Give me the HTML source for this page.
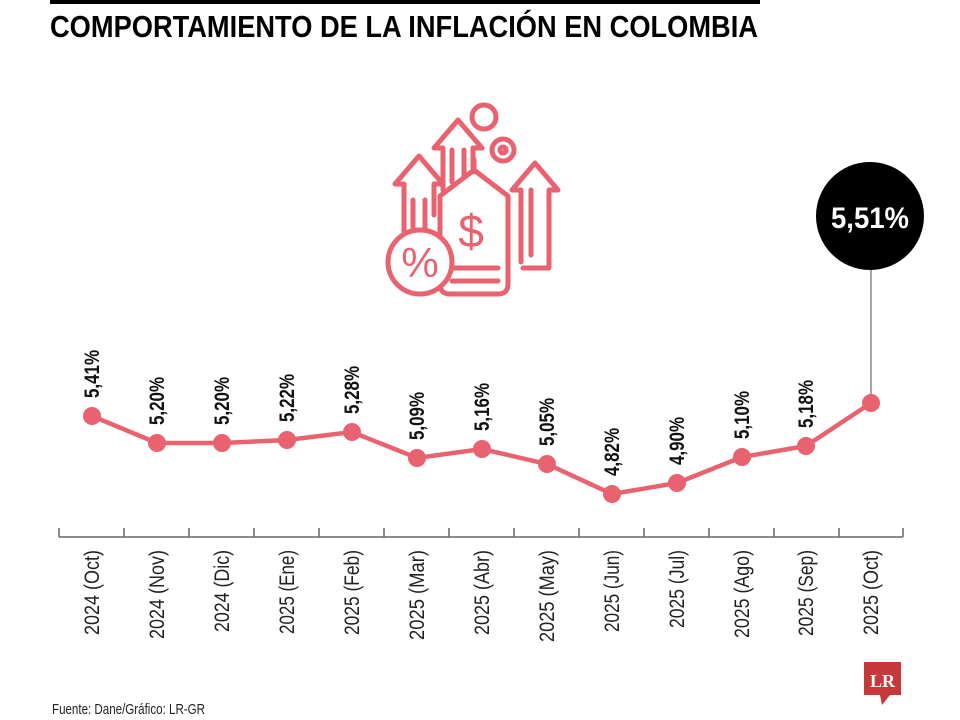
<!DOCTYPE html>
<html><head><meta charset="utf-8"><style>body{margin:0;background:#fff}svg{display:block}</style></head>
<body>
<svg width="960" height="720" viewBox="0 0 960 720" xmlns="http://www.w3.org/2000/svg" font-family="Liberation Sans Narrow, Liberation Sans, sans-serif">
<rect x="50" y="0" width="710" height="4" fill="#000"/>
<text x="50" y="37" font-size="31" font-weight="bold" textLength="708" lengthAdjust="spacingAndGlyphs">COMPORTAMIENTO DE LA INFLACIÓN EN COLOMBIA</text>
<g fill="none" stroke="#e9626f" stroke-width="5" stroke-linecap="round" stroke-linejoin="round">
<path d="M404 232 V184 h-9 l24 -28 l24 28 h-9 V215"/>
<path d="M413 200 V235 M425 200 V232"/>
<path d="M443 190 V148 h-9 l24 -28 l24 28 h-9 V170"/>
<path d="M452 150 V182 M464 150 V175"/>
<path d="M521 262 V190 h-9 l23 -27 l23 27 h-9 V268 h-26"/>
<path d="M531 190 V255"/>
<circle cx="484" cy="117" r="12"/>
<circle cx="503" cy="150" r="11"/>
<circle cx="503" cy="150" r="3"/>
<path d="M474 170 L440 196 V284 q0 10 10 10 h48 q10 0 10 -10 V196 Z" fill="#fff"/>
<path d="M474 160 V172"/>
<path d="M452 268 h46 M452 281 h46"/>
<circle cx="420" cy="262" r="32" fill="#fff"/>
</g>
<text x="471" y="247" font-size="46" fill="#e9626f" text-anchor="middle" font-family="Liberation Sans, sans-serif">$</text>
<text x="420" y="277" font-size="42" fill="#e9626f" text-anchor="middle" font-family="Liberation Sans, sans-serif">%</text>
<line x1="871" y1="216" x2="871" y2="403" stroke="#777" stroke-width="1.3"/>
<circle cx="870" cy="216" r="54" fill="#000"/>
<text x="870" y="228" font-size="30" font-weight="bold" fill="#fff" text-anchor="middle" textLength="78" lengthAdjust="spacingAndGlyphs">5,51%</text>
<g stroke="#666" stroke-width="1.5">
<line x1="59" y1="537" x2="903" y2="537"/>
<path d="M59 528V537M124 528V537M189 528V537M254 528V537M319 528V537M384 528V537M449 528V537M514 528V537M579 528V537M644 528V537M709 528V537M774 528V537M839 528V537M903 528V537"/>
</g>
<polyline fill="none" stroke="#e9626f" stroke-width="4.5" points="92,416 157,443 222,443 287,440 352,432 417,458 482,449 547,464 612,494 677,483 742,457 806,446 871,403"/>
<g fill="#e9626f">
<circle cx="92" cy="416" r="9"/><circle cx="157" cy="443" r="9"/><circle cx="222" cy="443" r="9"/><circle cx="287" cy="440" r="9"/><circle cx="352" cy="432" r="9"/><circle cx="417" cy="458" r="9"/><circle cx="482" cy="449" r="9"/><circle cx="547" cy="464" r="9"/><circle cx="612" cy="494" r="9"/><circle cx="677" cy="483" r="9"/><circle cx="742" cy="457" r="9"/><circle cx="806" cy="446" r="9"/><circle cx="871" cy="403" r="9"/>
</g>
<g font-size="21" font-weight="bold" fill="#111">
<text transform="translate(99,398) rotate(-90)" textLength="48" lengthAdjust="spacingAndGlyphs">5,41%</text>
<text transform="translate(164,425) rotate(-90)" textLength="48" lengthAdjust="spacingAndGlyphs">5,20%</text>
<text transform="translate(229,425) rotate(-90)" textLength="48" lengthAdjust="spacingAndGlyphs">5,20%</text>
<text transform="translate(294,422) rotate(-90)" textLength="48" lengthAdjust="spacingAndGlyphs">5,22%</text>
<text transform="translate(359,414) rotate(-90)" textLength="48" lengthAdjust="spacingAndGlyphs">5,28%</text>
<text transform="translate(424,440) rotate(-90)" textLength="48" lengthAdjust="spacingAndGlyphs">5,09%</text>
<text transform="translate(489,431) rotate(-90)" textLength="48" lengthAdjust="spacingAndGlyphs">5,16%</text>
<text transform="translate(554,446) rotate(-90)" textLength="48" lengthAdjust="spacingAndGlyphs">5,05%</text>
<text transform="translate(619,476) rotate(-90)" textLength="48" lengthAdjust="spacingAndGlyphs">4,82%</text>
<text transform="translate(684,465) rotate(-90)" textLength="48" lengthAdjust="spacingAndGlyphs">4,90%</text>
<text transform="translate(749,439) rotate(-90)" textLength="48" lengthAdjust="spacingAndGlyphs">5,10%</text>
<text transform="translate(813,428) rotate(-90)" textLength="48" lengthAdjust="spacingAndGlyphs">5,18%</text>
</g>
<g font-size="21" fill="#222">
<text transform="translate(99,635) rotate(-90)" textLength="85" lengthAdjust="spacingAndGlyphs">2024 (Oct)</text>
<text transform="translate(164,639) rotate(-90)" textLength="89" lengthAdjust="spacingAndGlyphs">2024 (Nov)</text>
<text transform="translate(229,632) rotate(-90)" textLength="82" lengthAdjust="spacingAndGlyphs">2024 (Dic)</text>
<text transform="translate(294,634) rotate(-90)" textLength="84" lengthAdjust="spacingAndGlyphs">2025 (Ene)</text>
<text transform="translate(359,635) rotate(-90)" textLength="85" lengthAdjust="spacingAndGlyphs">2025 (Feb)</text>
<text transform="translate(424,640) rotate(-90)" textLength="90" lengthAdjust="spacingAndGlyphs">2025 (Mar)</text>
<text transform="translate(489,635) rotate(-90)" textLength="85" lengthAdjust="spacingAndGlyphs">2025 (Abr)</text>
<text transform="translate(554,642) rotate(-90)" textLength="92" lengthAdjust="spacingAndGlyphs">2025 (May)</text>
<text transform="translate(619,632) rotate(-90)" textLength="82" lengthAdjust="spacingAndGlyphs">2025 (Jun)</text>
<text transform="translate(684,628) rotate(-90)" textLength="78" lengthAdjust="spacingAndGlyphs">2025 (Jul)</text>
<text transform="translate(749,638) rotate(-90)" textLength="88" lengthAdjust="spacingAndGlyphs">2025 (Ago)</text>
<text transform="translate(813,636) rotate(-90)" textLength="86" lengthAdjust="spacingAndGlyphs">2025 (Sep)</text>
<text transform="translate(878,635) rotate(-90)" textLength="85" lengthAdjust="spacingAndGlyphs">2025 (Oct)</text>
</g>
<text x="52" y="714" font-size="15" fill="#222" textLength="153" lengthAdjust="spacingAndGlyphs">Fuente: Dane/Gráfico: LR-GR</text>
<rect x="864" y="662" width="37" height="33" fill="#c8373a"/>
<path d="M880 695 L882 705 L890 695Z" fill="#c8373a"/>
<text x="882.5" y="687" font-size="18" font-weight="bold" fill="#fff" text-anchor="middle" font-family="Liberation Serif, serif">LR</text>
</svg>
</body></html>
